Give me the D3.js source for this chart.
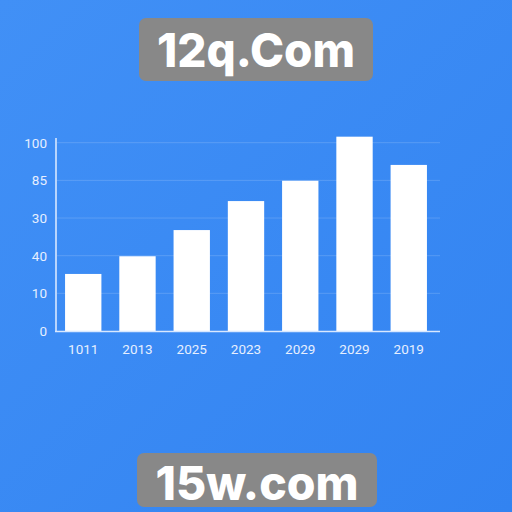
<!DOCTYPE html>
<html><head><meta charset="utf-8">
<script src="https://cdn.jsdelivr.net/npm/d3@7"></script>
<style>html,body{margin:0;padding:0;overflow:hidden;background:#3a89f3}</style>
</head><body>
<svg id="c" width="512" height="512"></svg>
<script>
const categories = ["1011","2013","2025","2023","2029","2029 ","2019"];
const values = [30.3, 39.7, 53.6, 69, 79.8, 103.2, 88.2];
const yTickValues = [0, 20, 40, 60, 80, 100];
const yTickLabels = ["0","10","40","30","85","100"];
const topLabel = "12q.Com";
const bottomLabel = "15w.com";

const svg = d3.select("#c");
const defs = svg.append("defs");
const g = defs.append("linearGradient").attr("id","bg").attr("x1","0").attr("y1","0").attr("x2","1").attr("y2","1");
g.append("stop").attr("offset","0").attr("stop-color","#4190f6");
g.append("stop").attr("offset","1").attr("stop-color","#3283f1");
svg.append("rect").attr("width",512).attr("height",512).attr("fill","url(#bg)");

const x = d3.scaleBand().domain(categories).range([58,434]).paddingInner(0.33).paddingOuter(0.13);
const y = d3.scaleLinear().domain([0,100]).range([331,142.7]);

// gridlines
svg.append("g").selectAll("line").data(yTickValues.slice(1)).join("line")
  .attr("x1",57).attr("x2",440).attr("y1",d=>y(d)).attr("y2",d=>y(d))
  .attr("stroke","rgba(255,255,255,0.16)").attr("stroke-width",1);

// y labels
const yAxis = d3.axisLeft(y).tickValues(yTickValues).tickFormat((d,i)=>yTickLabels[i]).tickSize(0).tickPadding(9);
const ya = svg.append("g").attr("transform","translate(56,0)").call(yAxis);
ya.select(".domain").remove();
ya.selectAll("text").attr("fill","#e6efff").attr("font-family","Roboto, 'Noto Sans', sans-serif").attr("font-size",13.5);

// bars
svg.append("g").selectAll("rect").data(values).join("rect")
  .attr("x",(d,i)=>x(categories[i])).attr("width",x.bandwidth())
  .attr("y",d=>y(d)).attr("height",d=>y(0)-y(d)).attr("fill","#ffffff");

// axes lines
svg.append("line").attr("x1",56).attr("x2",56).attr("y1",138).attr("y2",331.5)
  .attr("stroke","#d8e8ff").attr("stroke-width",1.6);
svg.append("line").attr("x1",55).attr("x2",440).attr("y1",331.5).attr("y2",331.5)
  .attr("stroke","#d8e8ff").attr("stroke-width",1.6);

// x labels
const xAxis = d3.axisBottom(x).tickSize(0).tickPadding(13).tickFormat(d=>d.trim());
const xa = svg.append("g").attr("transform","translate(0,331)").call(xAxis);
xa.select(".domain").remove();
xa.selectAll("text").attr("fill","#e6efff").attr("font-family","Roboto, 'Noto Sans', sans-serif").attr("font-size",13.5);

// label boxes
function badge(text, bx, by, bw, bh, ty, tw){
  svg.append("rect").attr("x",bx).attr("y",by).attr("width",bw).attr("height",bh).attr("rx",7)
    .attr("fill","#888888");
  svg.append("text").attr("x",bx+bw/2).attr("y",ty).attr("text-anchor","middle")
    .attr("font-family","Inter, 'Noto Sans', sans-serif").attr("font-weight",800)
    .attr("font-size",47).attr("fill","#ffffff")
    .attr("textLength",tw).attr("lengthAdjust","spacingAndGlyphs").text(text);
}
badge(topLabel, 139, 18, 234, 63, 67, 198);
badge(bottomLabel, 137, 453, 240, 54, 500, 203);
</script>
</body></html>
